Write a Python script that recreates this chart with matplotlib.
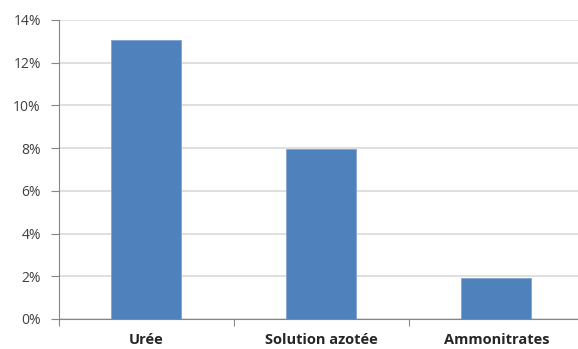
import matplotlib
matplotlib.use("Agg")
import matplotlib.pyplot as plt
from matplotlib.ticker import FuncFormatter, FixedLocator

categories = ["Urée", "Solution azotée", "Ammonitrates"]
values = [0.1306, 0.0796, 0.0192]
yticks = [0, 0.02, 0.04, 0.06, 0.08, 0.10, 0.12, 0.14]

BAR_BLUE = "#4F81BD"
GRID_GREY = "#D9D9D9"
AXIS_GREY = "#868686"

plt.rcParams["font.family"] = ["Open Sans", "DejaVu Sans"]

fig = plt.figure(figsize=(5.78, 3.49), dpi=100)
ax = fig.add_axes([0.102, 0.086, 0.908, 0.857])

x = range(len(categories))
ax.bar(x, values, width=0.4, color=BAR_BLUE, edgecolor="#7FA3D0", linewidth=0.6, zorder=3)

ax.set_xlim(-0.5, len(categories) - 0.5)
ax.set_ylim(0, 0.14)
ax.set_yticks(yticks)
ax.yaxis.set_major_formatter(FuncFormatter(lambda v, p: "{:.0f}%".format(v * 100)))
ax.yaxis.grid(True, color=GRID_GREY, linewidth=1.2, zorder=0)

# category labels in the middle, tick marks between categories
ax.set_xticks(list(x))
ax.set_xticklabels(categories, fontweight="bold", fontsize=10.5, color="#262626")
ax.tick_params(axis="x", length=0, pad=10)
ax.xaxis.set_minor_locator(FixedLocator([-0.5, 0.5, 1.5, 2.5]))
ax.tick_params(axis="x", which="minor", length=5, color=AXIS_GREY, width=0.8)

ax.tick_params(axis="y", length=6, color=AXIS_GREY, width=0.8, labelsize=10,
               labelcolor="#404040", pad=7)

for side in ["top", "right"]:
    ax.spines[side].set_visible(False)
ax.spines["left"].set_color(AXIS_GREY)
ax.spines["bottom"].set_color(AXIS_GREY)
ax.spines["left"].set_linewidth(0.8)
ax.spines["bottom"].set_linewidth(0.8)
ax.set_axisbelow(True)

fig.savefig("out.png", dpi=100)
